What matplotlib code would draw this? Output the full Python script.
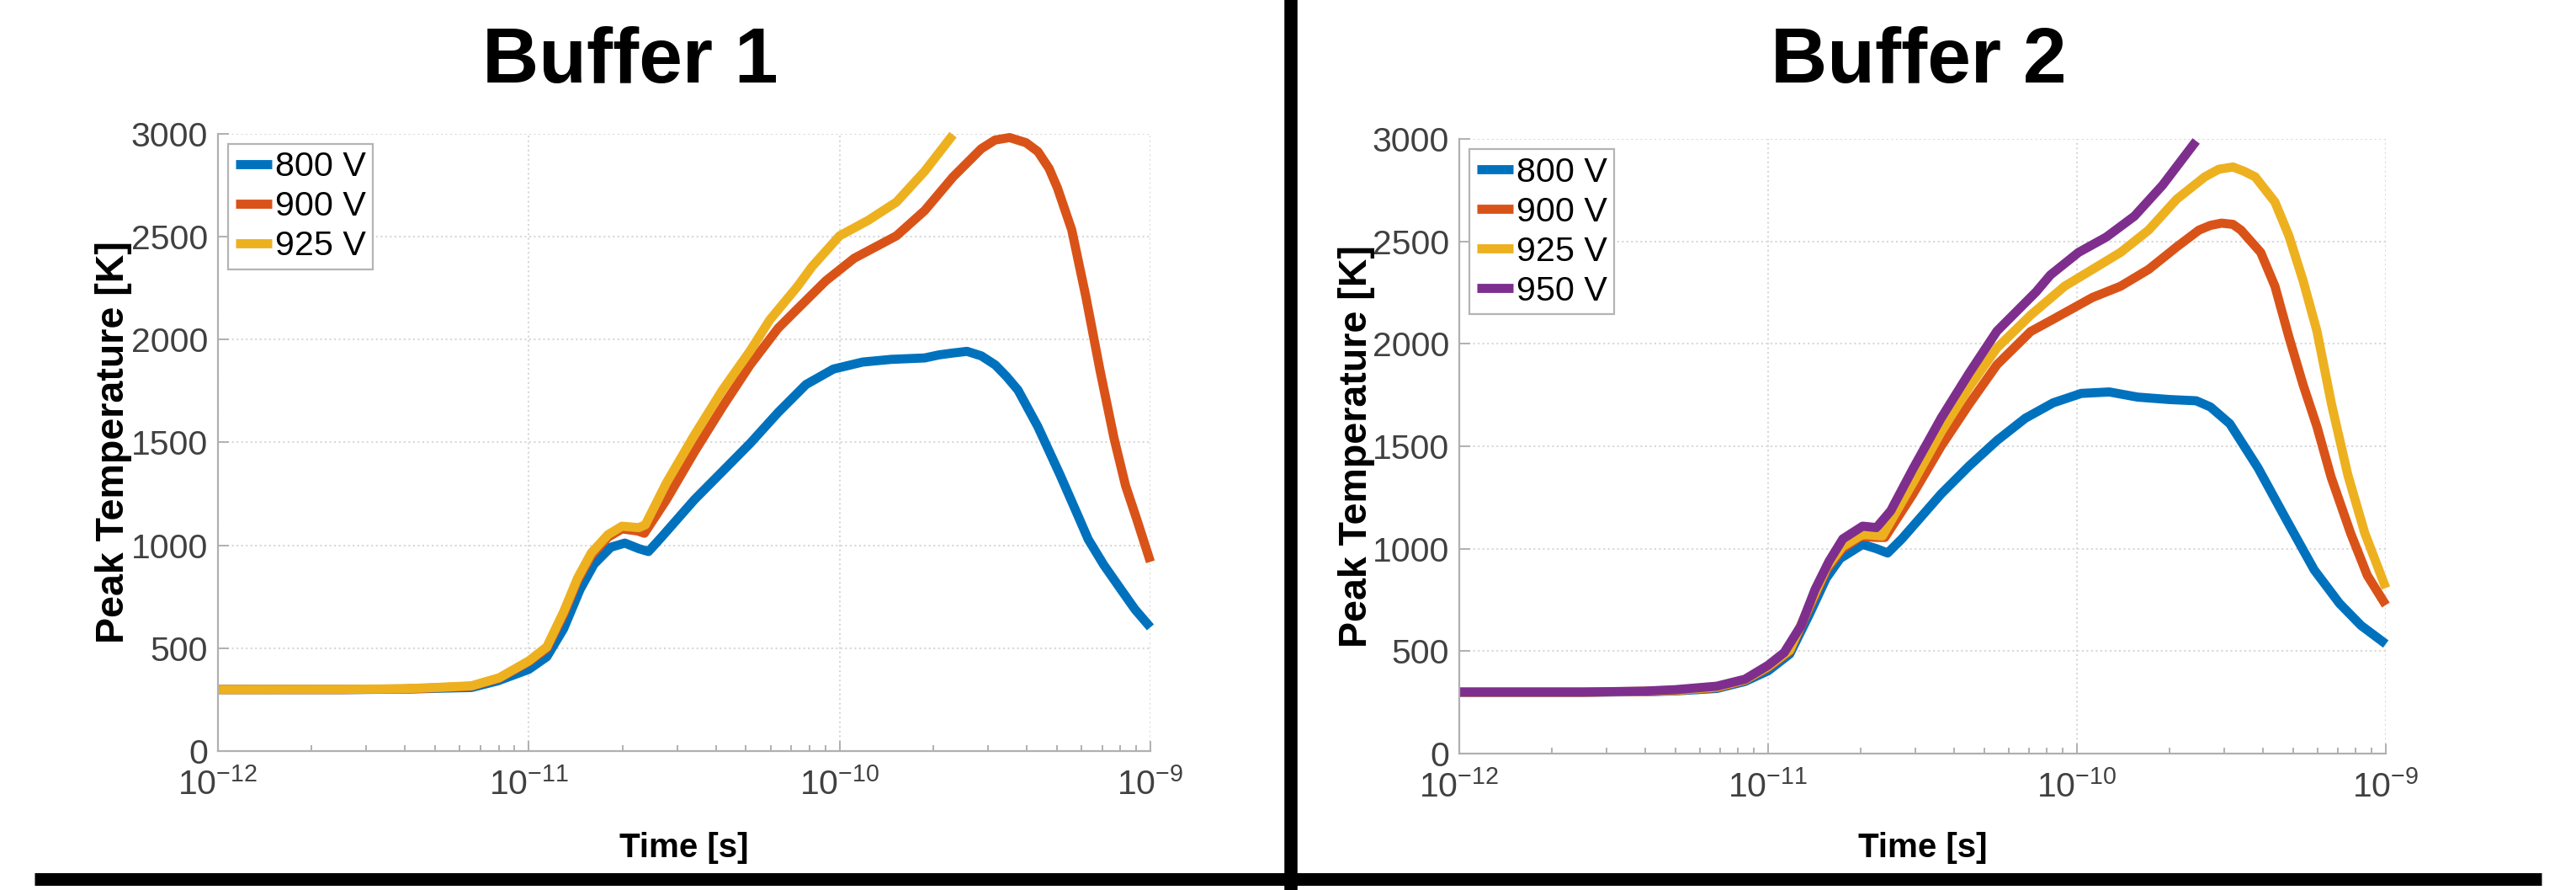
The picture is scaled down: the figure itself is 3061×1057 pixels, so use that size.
import numpy as np
import matplotlib
matplotlib.use("Agg")
from matplotlib import pyplot as plt
from matplotlib.lines import Line2D
from matplotlib.ticker import LogLocator, NullFormatter

plt.rcParams['font.family'] = ['Liberation Sans', 'DejaVu Sans']

# ---- data (time as log10 of seconds, temperature in K) ----
# Buffer 1
b1_800_logt = [-12.0, -11.6, -11.4, -11.3, -11.184, -11.1, -11.0, -10.942, -10.888, -10.835,
               -10.79, -10.736, -10.691, -10.646, -10.615, -10.574, -10.467, -10.377, -10.288,
               -10.198, -10.108, -10.02, -9.926, -9.835, -9.726, -9.68, -9.635, -9.59, -9.544,
               -9.499, -9.463, -9.426, -9.362, -9.29, -9.236, -9.2, -9.15, -9.093, -9.05, -9.0]
b1_800_T = [300, 300, 302, 306, 310, 342, 398, 459, 595, 786,
            909, 991, 1011, 984, 970, 1038, 1222, 1359, 1495,
            1645, 1781, 1856, 1890, 1903, 1910, 1925, 1934, 1942, 1920,
            1876, 1820, 1754, 1576, 1340, 1154, 1029, 905, 782, 690, 602]

b1_900_logt = [-12.0, -11.6, -11.4, -11.3, -11.184, -11.095, -11.0, -10.942, -10.888, -10.843,
               -10.799, -10.745, -10.70, -10.65, -10.628, -10.557, -10.467, -10.377, -10.288,
               -10.198, -10.135, -10.044, -9.953, -9.817, -9.726, -9.635, -9.544, -9.50, -9.453,
               -9.40, -9.362, -9.326, -9.299, -9.253, -9.208, -9.162, -9.117, -9.08, -9.044, -9.0]
b1_900_T = [300, 300, 303, 308, 316, 355, 435, 500, 665, 830,
            950, 1040, 1080, 1070, 1059, 1222, 1454, 1672, 1876,
            2054, 2149, 2285, 2394, 2503, 2626, 2789, 2926, 2968, 2980,
            2955, 2912, 2830, 2735, 2531, 2210, 1849, 1520, 1290, 1127, 920]

b1_925_logt = [-12.0, -11.6, -11.4, -11.3, -11.184, -11.095, -11.0, -10.942, -10.888, -10.843,
               -10.799, -10.745, -10.70, -10.646, -10.625, -10.557, -10.467, -10.377, -10.288,
               -10.225, -10.135, -10.089, -10.0, -9.908, -9.817, -9.726, -9.635]
b1_925_T = [300, 301, 304, 310, 318, 357, 439, 507, 677, 841,
            963, 1052, 1093, 1086, 1100, 1304, 1536, 1754, 1944,
            2094, 2258, 2353, 2503, 2578, 2667, 2817, 2994]

# Buffer 2
b2_800_logt = [-12.0, -11.6, -11.4, -11.3, -11.166, -11.075, -11.0, -10.93, -10.867, -10.812,
               -10.767, -10.694, -10.649, -10.613, -10.567, -10.44, -10.349, -10.259, -10.167,
               -10.077, -9.986, -9.895, -9.804, -9.7, -9.614, -9.568, -9.505, -9.414, -9.323,
               -9.232, -9.15, -9.08, -9.0]
b2_800_T = [300, 300, 302, 306, 318, 352, 404, 486, 678, 856,
            952, 1021, 1000, 979, 1048, 1267, 1404, 1528, 1637,
            1712, 1758, 1765, 1740, 1728, 1722, 1692, 1610, 1395, 1144,
            897, 733, 625, 535]

b2_900_logt = [-12.0, -11.6, -11.4, -11.3, -11.166, -11.075, -11.0, -10.93, -10.87, -10.81,
               -10.76, -10.70, -10.65, -10.622, -10.531, -10.44, -10.349, -10.259, -10.15,
               -10.077, -9.95, -9.859, -9.768, -9.677, -9.605, -9.568, -9.532, -9.495, -9.469,
               -9.405, -9.359, -9.314, -9.268, -9.223, -9.177, -9.114, -9.06, -9.0]
b2_900_T = [300, 300, 303, 308, 322, 358, 420, 500, 700, 900,
            1000, 1060, 1055, 1055, 1267, 1500, 1706, 1898, 2060,
            2120, 2226, 2281, 2363, 2473, 2555, 2578, 2589, 2583, 2555,
            2446, 2281, 2035, 1801, 1596, 1349, 1076, 870, 725]

b2_925_logt = [-12.0, -11.6, -11.4, -11.3, -11.166, -11.075, -11.0, -10.93, -10.87, -10.81,
               -10.76, -10.70, -10.685, -10.63, -10.531, -10.44, -10.349, -10.259, -10.15,
               -10.04, -9.95, -9.859, -9.768, -9.677, -9.586, -9.541, -9.495, -9.46, -9.423,
               -9.359, -9.314, -9.268, -9.223, -9.175, -9.123, -9.068, -9.0]
b2_925_T = [300, 300, 304, 309, 325, 360, 425, 505, 710, 910,
            1010, 1065, 1069, 1062, 1322, 1569, 1788, 1980, 2140,
            2281, 2363, 2446, 2555, 2706, 2815, 2852, 2863, 2843, 2815,
            2692, 2528, 2309, 2062, 1700, 1360, 1076, 808]

b2_950_logt = [-12.0, -11.6, -11.4, -11.3, -11.166, -11.075, -11.0, -10.948, -10.894, -10.848,
               -10.803, -10.758, -10.694, -10.649, -10.603, -10.531, -10.44, -10.349, -10.259,
               -10.132, -10.086, -9.995, -9.905, -9.814, -9.723, -9.614]
b2_950_T = [300, 300, 305, 312, 329, 363, 431, 493, 623, 801,
            938, 1048, 1110, 1103, 1185, 1390, 1637, 1857, 2062,
            2254, 2336, 2446, 2521, 2623, 2774, 2990]

labels_b1 = ['800 V', '900 V', '925 V']
labels_b2 = ['800 V', '900 V', '925 V', '950 V']
colors = ['#0072BD', '#D95319', '#EDB120', '#7E2F8E']

W, H = 3061, 1057
fig = plt.figure(figsize=(W / 100, H / 100), dpi=100)

def setup(ax, ylab_x, xlab_y):
    ax.set_xscale('log')
    ax.set_xlim(1e-12, 1e-9)
    ax.set_ylim(0, 3000)
    ax.set_yticks(np.arange(0, 3001, 500))
    ax.xaxis.set_major_locator(LogLocator(base=10, numticks=10))
    ax.xaxis.set_minor_locator(LogLocator(base=10, subs=np.arange(2, 10), numticks=20))
    ax.xaxis.set_minor_formatter(NullFormatter())
    for s in ['top', 'right']:
        ax.spines[s].set_visible(False)
    for s in ['left', 'bottom']:
        ax.spines[s].set_color('#b0b0b0')
        ax.spines[s].set_linewidth(1.6)
    ax.tick_params(which='both', direction='in', color='#b0b0b0', width=1.4,
                   labelcolor='#404040', labelsize=29.5)
    ax.tick_params(which='major', length=9)
    ax.tick_params(which='minor', length=5)
    ax.tick_params(axis='y', pad=8.5)
    ax.tick_params(axis='x', pad=14)
    ax.grid(True, which='major', linestyle=':', color='#d8d8d8', linewidth=1.5)
    ax.set_axisbelow(True)
    ax.set_ylabel('Peak Temperature [K]', fontsize=33.5, fontweight='bold')
    ax.yaxis.set_label_coords(ylab_x, 0.5)
    ax.set_xlabel('Time [s]', fontsize=29, fontweight='bold')
    ax.xaxis.label.set_va('baseline')
    ax.xaxis.set_label_coords(0.5, xlab_y)

def draw(ax, series, labels):
    for (lt, T), lab, c in zip(series, labels, colors):
        ax.plot(10 ** np.array(lt), T, color=c, lw=7.8, label=lab, clip_on=False,
                solid_capstyle='butt', solid_joinstyle='round')
    leg = ax.legend(loc='upper left', fontsize=29.7, handlelength=1.05, handletextpad=0.1,
                    borderpad=0.2, labelspacing=0.22, borderaxespad=0.3, fancybox=False,
                    framealpha=1, edgecolor='#b4b4b4')
    leg.get_frame().set_linewidth(1.6)

ax1 = fig.add_axes([259 / W, 1 - 892.3 / H, 1108 / W, 733.8 / H])
setup(ax1, -0.092, -0.1713)
draw(ax1, [(b1_800_logt, b1_800_T), (b1_900_logt, b1_900_T), (b1_925_logt, b1_925_T)], labels_b1)

ax2 = fig.add_axes([1734 / W, 1 - 895 / H, 1101 / W, 730 / H])
setup(ax2, -0.0908, -0.1685)
draw(ax2, [(b2_800_logt, b2_800_T), (b2_900_logt, b2_900_T), (b2_925_logt, b2_925_T),
           (b2_950_logt, b2_950_T)], labels_b2)

fig.text(749 / W, 1 - 98 / H, 'Buffer 1', ha='center', va='baseline', fontsize=67, fontweight='bold')
fig.text(2280 / W, 1 - 98 / H, 'Buffer 2', ha='center', va='baseline', fontsize=67, fontweight='bold')

# black separators
fig.add_artist(Line2D([1534 / W, 1534 / W], [0, 1], color='black', lw=11.2,
                      solid_capstyle='butt', transform=fig.transFigure))
fig.add_artist(Line2D([41 / W, 3020 / W], [1 - 1044 / H, 1 - 1044 / H], color='black', lw=10.8,
                      solid_capstyle='butt', transform=fig.transFigure))

fig.savefig('out.png', dpi=100)
